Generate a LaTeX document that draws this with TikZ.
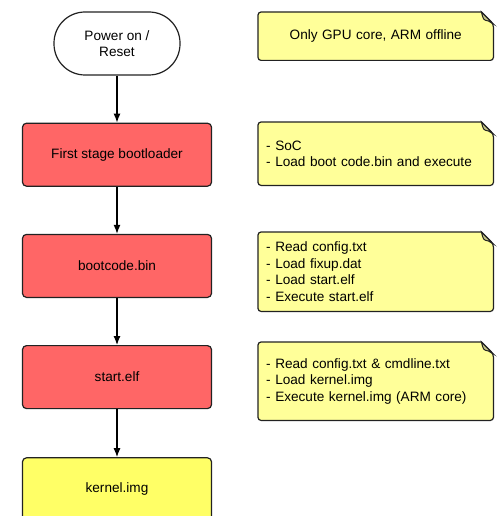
\documentclass[tikz,border=0pt]{standalone}
\usepackage{fontspec}
\setmainfont{Liberation Sans}
\usepackage{xcolor}
\usetikzlibrary{arrows.meta, positioning, calc, backgrounds}

\definecolor{stepred}{HTML}{FF6666}
\definecolor{kernyellow}{HTML}{FFFF66}
\definecolor{notefill}{HTML}{FFFF99}
\definecolor{foldfill}{HTML}{C2C283}
\definecolor{edgegray}{HTML}{222222}

\begin{document}
\begin{tikzpicture}[
  x=1pt, y=-1pt,
  node distance=47pt,
  font=\fontsize{13.6}{16.6}\selectfont,
  stepbox/.style={draw=edgegray, line width=1.2pt, rounded corners=4pt,
                  minimum width=189pt, minimum height=63pt, fill=stepred, align=center},
  startbox/.style={draw=edgegray, line width=1.2pt, rounded corners=31pt,
                   minimum width=126pt, minimum height=63pt, fill=white, align=center},
  notebox/.style={minimum width=235pt, inner xsep=8pt, align=left, text width=219pt,
                  anchor=north west},
  noteline/.style={draw=edgegray, line width=1.2pt, fill=notefill, rounded corners=3pt},
  arrow/.style={-{Latex[length=9pt,width=7pt]}, line width=1.2pt, black},
]
\useasboundingbox (0,0) rectangle (500,516);

% Main chain of boot stages
\node[startbox] (power) at (117,43.5) {Power on /\\Reset};
\node[stepbox, below=of power] (first) {First stage bootloader};
\node[stepbox, below=of first] (bootcode) {bootcode.bin};
\node[stepbox, below=of bootcode] (startelf) {start.elf};
\node[stepbox, below=48pt of startelf, fill=kernyellow] (kernel) {kernel.img};

% Notes beside the stages (top aligned with each stage)
\node[notebox, minimum height=48pt, align=center]
  (n1) at (258,12) {Only GPU core, ARM offline};
\node[notebox, minimum height=63pt]
  (n2) at (258,122) {- SoC\\- Load boot code.bin and execute};
\node[notebox, minimum height=79pt]
  (n3) at (258,232) {- Read config.txt\\- Load fixup.dat\\- Load start.elf\\- Execute start.elf};
\node[notebox, minimum height=78pt]
  (n4) at (258,342) {- Read config.txt \& cmdline.txt\\- Load kernel.img\\- Execute kernel.img (ARM core)};

% Note outlines with folded corner
\begin{scope}[on background layer]
\foreach \n in {n1, n2, n3, n4} {
  \draw[noteline]
    ([xshift=-12pt]\n.north east) -- (\n.north west) -- (\n.south west)
    -- (\n.south east) -- ([yshift=-12pt]\n.north east)
    [sharp corners] -- cycle;
  \filldraw[draw=edgegray, fill=foldfill, line width=1pt]
    ([xshift=-12pt]\n.north east) .. controls ([xshift=-10pt,yshift=-8pt]\n.north east)
    .. ([xshift=-5pt,yshift=-9pt]\n.north east) -- ([yshift=-12pt]\n.north east) -- cycle;
}
\end{scope}

% Arrows
\draw[arrow] (power) -- (first);
\draw[arrow] (first) -- (bootcode);
\draw[arrow] (bootcode) -- (startelf);
\draw[arrow] (startelf) -- (kernel);
\end{tikzpicture}
\end{document}
